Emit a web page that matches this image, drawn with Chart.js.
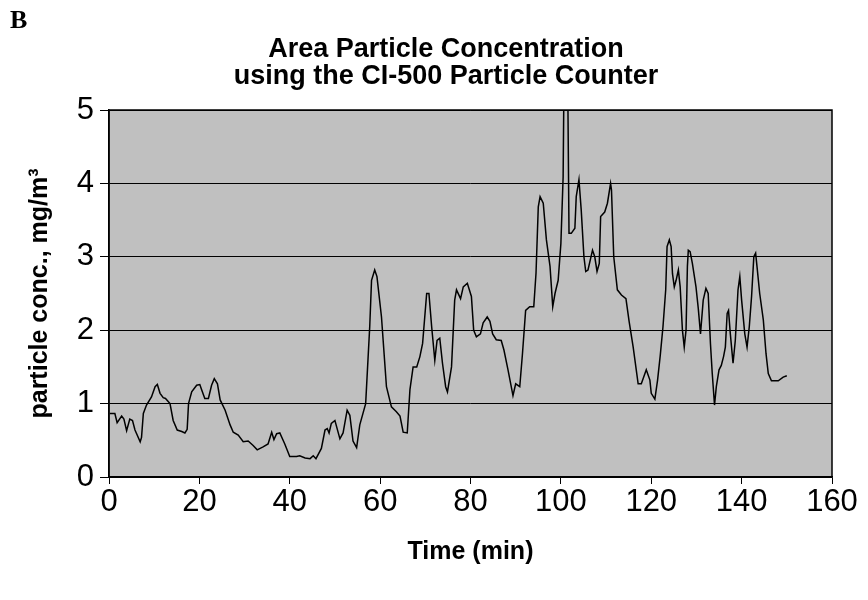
<!DOCTYPE html>
<html>
<head>
<meta charset="utf-8">
<script src="https://cdn.jsdelivr.net/npm/chart.js@4.4.1/dist/chart.umd.min.js"></script>
<style>
  html, body { margin: 0; padding: 0; background: #ffffff; }
  #wrap { position: relative; width: 868px; height: 600px; }
  canvas { display: block; }
</style>
</head>
<body>
<div id="wrap"><canvas id="c" width="868" height="600"></canvas></div>
<script>
// ---- data ----
const panelLabel = "B";
const titleLines = ["Area Particle Concentration", "using the CI-500 Particle Counter"];
const xAxisTitle = "Time (min)";
const yAxisTitle = "particle conc., mg/m\u00B3";

const timeMin = [
  0.2, 1.3, 1.8, 2.8, 3.3, 3.9, 4.6, 5.2, 5.75, 6.9, 7.2, 7.6, 8.3, 9.4, 10.2, 10.7, 11.3, 12.0, 12.5, 13.5,
  14.2, 15.1, 16.1, 16.8, 17.3, 17.6, 18.3, 19.4, 20.1, 20.5, 21.2, 22.0, 22.7, 23.3, 24.0, 24.6, 25.7, 26.8, 27.5, 28.6,
  29.7, 30.8, 31.9, 32.8, 34.1, 35.2, 36.0, 36.5, 37.1, 37.8, 38.9, 40.0, 41.5, 42.2, 43.4, 44.5, 45.2, 45.8, 47.0, 47.8,
  48.3, 48.7, 49.2, 50.0, 51.1, 51.8, 52.7, 53.3, 54.0, 54.8, 55.5, 56.8, 57.7, 58.1, 58.8, 59.3, 60.3, 61.4, 62.5, 63.6,
  64.4, 65.1, 66.0, 66.6, 67.3, 68.1, 68.8, 69.4, 70.3, 70.8, 71.4, 72.1, 72.6, 73.2, 73.8, 74.5, 74.9, 75.8, 76.5, 76.9,
  77.8, 78.4, 79.3, 80.2, 80.7, 81.3, 82.2, 82.8, 83.7, 84.3, 84.9, 85.7, 86.8, 87.4, 88.3, 89.4, 90.0, 90.9, 91.5, 92.2,
  93.1, 94.0, 94.5, 95.0, 95.4, 96.1, 96.8, 97.6, 98.2, 98.7, 99.4, 100.0, 100.5, 100.7, 101.5, 101.8, 102.3, 103.1, 103.4, 104.0,
  104.5, 105.1, 105.5, 106.0, 107.0, 107.5, 108.0, 108.5, 108.8, 109.7, 110.3, 111.0, 111.2, 111.7, 112.5, 113.4, 114.4, 115.1, 116.0, 117.1,
  117.8, 118.9, 119.7, 120.0, 120.8, 121.4, 122.0, 122.6, 123.2, 123.5, 124.0, 124.4, 124.7, 125.1, 125.5, 126.0, 126.4, 126.9, 127.3, 127.7,
  128.0, 128.2, 128.6, 129.1, 129.9, 130.4, 130.9, 131.5, 132.1, 132.6, 133.1, 133.5, 134.0, 134.4, 135.0, 135.5, 136.0, 136.4, 136.8, 137.1,
  137.5, 138.1, 138.6, 139.2, 139.6, 140.0, 140.7, 141.2, 141.7, 142.2, 142.7, 143.1, 143.4, 144.0, 144.8, 145.4, 145.9, 146.6, 148.1, 149.2,
  150.0
];
const concMgM3 = [
  0.865, 0.865, 0.74, 0.83, 0.79, 0.63, 0.79, 0.77, 0.64, 0.48, 0.54, 0.865, 0.98, 1.09, 1.23, 1.26, 1.14, 1.08, 1.07, 1.0,
  0.77, 0.64, 0.62, 0.60, 0.65, 1.0, 1.16, 1.25, 1.26, 1.19, 1.07, 1.07, 1.25, 1.34, 1.27, 1.05, 0.91, 0.71, 0.61, 0.57,
  0.48, 0.49, 0.43, 0.37, 0.41, 0.45, 0.61, 0.51, 0.59, 0.60, 0.45, 0.28, 0.28, 0.29, 0.26, 0.25, 0.29, 0.25, 0.39, 0.64,
  0.66, 0.60, 0.73, 0.77, 0.52, 0.60, 0.91, 0.84, 0.49, 0.40, 0.71, 1.0, 2.05, 2.68, 2.82, 2.73, 2.18, 1.23, 0.955, 0.89,
  0.83, 0.61, 0.60, 1.19, 1.50, 1.50, 1.64, 1.82, 2.50, 2.50, 2.05, 1.59, 1.86, 1.89, 1.55, 1.23, 1.16, 1.50, 2.41, 2.55,
  2.43, 2.59, 2.64, 2.46, 2.0, 1.91, 1.95, 2.10, 2.18, 2.12, 1.95, 1.87, 1.86, 1.73, 1.46, 1.11, 1.27, 1.23, 1.68, 2.27,
  2.32, 2.32, 2.78, 3.68, 3.82, 3.73, 3.23, 2.87, 2.32, 2.50, 2.68, 3.18, 4.09, 5.5, 5.5, 3.32, 3.32, 3.39, 3.82, 4.05,
  3.64, 3.0, 2.80, 2.82, 3.09, 3.0, 2.80, 2.91, 3.55, 3.61, 3.73, 4.0, 3.91, 3.0, 2.55, 2.48, 2.43, 2.12, 1.77, 1.27,
  1.27, 1.46, 1.32, 1.14, 1.06, 1.32, 1.66, 2.05, 2.55, 3.14, 3.23, 3.14, 2.77, 2.59, 2.68, 2.82, 2.59, 2.0, 1.77, 2.0,
  2.87, 3.09, 3.07, 2.91, 2.59, 2.30, 1.95, 2.41, 2.57, 2.50, 1.82, 1.41, 0.98, 1.23, 1.46, 1.52, 1.64, 1.77, 2.23, 2.27,
  1.95, 1.55, 1.86, 2.55, 2.73, 2.41, 1.95, 1.77, 2.05, 2.46, 3.0, 3.05, 2.87, 2.50, 2.14, 1.68, 1.41, 1.31, 1.31, 1.36,
  1.38
];
const xTickValues = [0, 20, 40, 60, 80, 100, 120, 140, 160];
const yTickValues = [0, 1, 2, 3, 4, 5];

// ---- chart ----
const FONT = "'Liberation Sans', Arial, Helvetica, sans-serif";

const plotDecor = {
  id: 'plotDecor',
  beforeDraw(chart) {
    const {ctx, chartArea: a} = chart;
    ctx.save();
    ctx.fillStyle = '#c0c0c0';
    ctx.fillRect(a.left, a.top, a.right - a.left, a.bottom - a.top);
    ctx.restore();
  },
  afterDraw(chart) {
    const {ctx, chartArea: a} = chart;
    ctx.save();
    ctx.strokeStyle = '#000000';
    ctx.lineWidth = 1.5;
    ctx.strokeRect(a.left, a.top, a.right - a.left, a.bottom - a.top);
    // panel label
    ctx.fillStyle = '#000';
    ctx.font = "bold 26px 'Liberation Serif', 'Times New Roman', serif";
    ctx.textAlign = 'left';
    ctx.textBaseline = 'middle';
    ctx.fillText(panelLabel, 10, 21);
    // title
    ctx.font = "bold 27px " + FONT;
    ctx.textAlign = 'center';
    ctx.fillText(titleLines[0], 446, 50);
    ctx.fillText(titleLines[1], 446, 77);
    ctx.restore();
  }
};

new Chart(document.getElementById('c'), {
  type: 'scatter',
  data: {
    datasets: [{
      data: timeMin.map((t, i) => ({x: t, y: concMgM3[i]})),
      showLine: true,
      borderColor: '#000000',
      borderWidth: 1.5,
      pointRadius: 0,
      pointHoverRadius: 0,
      tension: 0,
      fill: false
    }]
  },
  options: {
    responsive: false,
    animation: false,
    devicePixelRatio: 1,
    layout: { padding: { left: 0, right: 36, top: 110, bottom: 0 } },
    plugins: { legend: { display: false }, tooltip: { enabled: false }, title: { display: false } },
    scales: {
      x: {
        type: 'linear',
        min: 0, max: 160,
        afterFit(s) { s.height = 123; },
        afterBuildTicks(s) { s.ticks = xTickValues.map(v => ({value: v})); },
        border: { display: true, color: '#000', width: 1.5 },
        grid: { drawOnChartArea: false, drawTicks: true, tickLength: 7, color: '#000', tickWidth: 1 },
        ticks: { color: '#000', font: { family: FONT, size: 31 }, padding: 0, maxRotation: 0 },
        title: { display: true, text: xAxisTitle, color: '#000', font: { family: FONT, size: 25, weight: 'bold' }, padding: { top: 0, bottom: 33 } }
      },
      y: {
        type: 'linear',
        min: 0, max: 5,
        afterFit(s) { s.width = 109; },
        afterBuildTicks(s) { s.ticks = yTickValues.map(v => ({value: v})); },
        border: { display: true, color: '#000', width: 1.5 },
        grid: { drawOnChartArea: true, drawTicks: true, tickLength: 9, color: '#000', lineWidth: 1 },
        ticks: { color: '#000', font: { family: FONT, size: 31 }, padding: 6 },
        title: { display: true, text: yAxisTitle, color: '#000', font: { family: FONT, size: 25, weight: 'bold' }, padding: { top: 25, bottom: 0 } }
      }
    }
  },
  plugins: [plotDecor]
});
</script>
</body>
</html>
